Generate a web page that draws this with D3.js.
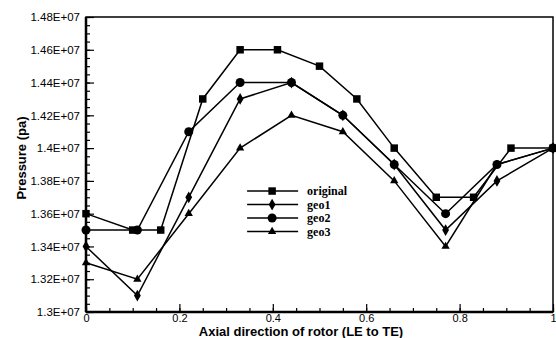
<!DOCTYPE html>
<html>
<head>
<meta charset="utf-8">
<script src="https://cdn.jsdelivr.net/npm/d3@7"></script>
<style>
  body { margin: 0; background: #fff; }
  svg { display: block; }
</style>
</head>
<body>
<svg id="drawing_region"></svg>
<script>
// data (pressure in units of 1E+07 pa)
const series_names = ['original', 'geo1', 'geo2', 'geo3'];
const original_x = [0, 0.1, 0.16, 0.25, 0.33, 0.41, 0.5, 0.58, 0.66, 0.75, 0.83, 0.91, 1.0];
const original_y = [1.36, 1.35, 1.35, 1.43, 1.46, 1.46, 1.45, 1.43, 1.40, 1.37, 1.37, 1.40, 1.40];
const geo_x = [0, 0.11, 0.22, 0.33, 0.44, 0.55, 0.66, 0.77, 0.88, 1.0];
const geo1_y = [1.34, 1.31, 1.37, 1.43, 1.44, 1.42, 1.39, 1.35, 1.38, 1.40];
const geo2_y = [1.35, 1.35, 1.41, 1.44, 1.44, 1.42, 1.39, 1.36, 1.39, 1.40];
const geo3_y = [1.33, 1.32, 1.36, 1.40, 1.42, 1.41, 1.38, 1.34, 1.39, 1.40];
const y_ticks = [1.30, 1.32, 1.34, 1.36, 1.38, 1.40, 1.42, 1.44, 1.46, 1.48];
const y_tick_labels = ['1.3E+07', '1.32E+07', '1.34E+07', '1.36E+07', '1.38E+07', '1.4E+07', '1.42E+07', '1.44E+07', '1.46E+07', '1.48E+07'];
const x_ticks = [0, 0.2, 0.4, 0.6, 0.8, 1];
const x_tick_labels = ['0', '0.2', '0.4', '0.6', '0.8', '1'];

const config = {
    width: 556,
    height: 338,
    margin: {top: 17, right: 3, bottom: 26, left: 86}
};

const svg = d3.select('#drawing_region')
    .attr('width', config.width)
    .attr('height', config.height);

const inner_width = config.width - config.margin.left - config.margin.right;
const inner_height = config.height - config.margin.top - config.margin.bottom;

const chart = svg.append('g')
    .attr('transform', `translate(${config.margin.left}, ${config.margin.top})`);

const xscale = d3.scaleLinear().domain([0, 1]).range([0, inner_width]);
const yscale = d3.scaleLinear().domain([1.30, 1.48]).range([inner_height, 0]);

// minor ticks (inside)
const x_minor = d3.range(0, 1.0001, 0.05);
const y_minor = d3.range(1.30, 1.48001, 0.005);

chart.append('g')
    .attr('transform', `translate(0, ${inner_height})`)
    .call(d3.axisBottom(xscale).tickValues(x_minor).tickSize(-4).tickFormat(''))
    .call(g => g.select('.domain').remove());

chart.append('g')
    .call(d3.axisLeft(yscale).tickValues(y_minor).tickSize(-4).tickFormat(''))
    .call(g => g.select('.domain').remove());

// major ticks
const xaxis_group = chart.append('g')
    .attr('transform', `translate(0, ${inner_height})`)
    .call(d3.axisBottom(xscale).tickValues(x_ticks).tickSize(-8).tickPadding(2)
        .tickFormat((d, i) => x_tick_labels[i]));
xaxis_group.select('.domain').remove();
xaxis_group.selectAll('text')
    .attr('font-family', 'Liberation Sans, Arial, sans-serif')
    .attr('font-size', '11px')
    .attr('fill', '#000');

const yaxis_group = chart.append('g')
    .call(d3.axisLeft(yscale).tickValues(y_ticks).tickSize(-8).tickPadding(6)
        .tickFormat((d, i) => y_tick_labels[i]));
yaxis_group.select('.domain').remove();
yaxis_group.selectAll('text')
    .attr('font-family', 'Liberation Sans, Arial, sans-serif')
    .attr('font-size', '11.5px')
    .attr('fill', '#000');

chart.selectAll('.tick line').attr('stroke', '#000').attr('stroke-width', 1.2);

// frame
chart.append('rect')
    .attr('x', 0).attr('y', 0)
    .attr('width', inner_width).attr('height', inner_height)
    .attr('fill', 'none').attr('stroke', '#000').attr('stroke-width', 1.5);
chart.append('line')
    .attr('x1', 0).attr('x2', 0).attr('y1', 0).attr('y2', inner_height)
    .attr('stroke', '#000').attr('stroke-width', 2.5);
chart.append('line')
    .attr('x1', 0).attr('x2', inner_width).attr('y1', inner_height).attr('y2', inner_height)
    .attr('stroke', '#000').attr('stroke-width', 2.5);

// series
const series = [
    {name: series_names[0], xs: original_x, ys: original_y, symbol: d3.symbolSquare, size: 56},
    {name: series_names[1], xs: geo_x, ys: geo1_y, symbol: d3.symbolDiamond, size: 40},
    {name: series_names[2], xs: geo_x, ys: geo2_y, symbol: d3.symbolCircle, size: 64},
    {name: series_names[3], xs: geo_x, ys: geo3_y, symbol: d3.symbolTriangle, size: 30}
];

const line = d3.line()
    .x(d => xscale(d[0]))
    .y(d => yscale(d[1]));

series.forEach(s => {
    const pts = s.xs.map((x, i) => [x, s.ys[i]]);
    chart.append('path')
        .attr('d', line(pts))
        .attr('stroke', '#000')
        .attr('stroke-width', 1.5)
        .attr('fill', 'none');
    chart.selectAll(null)
        .data(pts)
        .enter()
        .append('path')
        .attr('d', d3.symbol().type(s.symbol).size(s.size))
        .attr('transform', d => `translate(${xscale(d[0])}, ${yscale(d[1])})`)
        .attr('fill', '#000');
});

// legend
const legend = chart.append('g')
    .attr('transform', `translate(${xscale(0.345)}, ${yscale(1.3738)})`);
series.forEach((s, i) => {
    const g = legend.append('g').attr('transform', `translate(0, ${i * 13.5})`);
    g.append('line')
        .attr('x1', 0).attr('x2', 51)
        .attr('y1', 0).attr('y2', 0)
        .attr('stroke', '#000').attr('stroke-width', 1.5);
    g.append('path')
        .attr('d', d3.symbol().type(s.symbol).size(s.size))
        .attr('transform', 'translate(25, 0)')
        .attr('fill', '#000');
    g.append('text')
        .attr('x', 60).attr('y', 0)
        .attr('dy', '0.35em')
        .attr('font-family', 'Liberation Serif, serif')
        .attr('font-weight', 'bold')
        .attr('font-size', '12px')
        .text(s.name);
});

// axis titles
svg.append('text')
    .attr('x', 301).attr('y', 336)
    .attr('text-anchor', 'middle')
    .attr('font-family', 'Liberation Sans, Arial, sans-serif')
    .attr('font-weight', 'bold')
    .attr('font-size', '13px')
    .text('Axial direction of rotor (LE to TE)');

svg.append('text')
    .attr('transform', 'translate(26, 158) rotate(-90)')
    .attr('text-anchor', 'middle')
    .attr('font-family', 'Liberation Sans, Arial, sans-serif')
    .attr('font-weight', 'bold')
    .attr('font-size', '13px')
    .text('Pressure (pa)');
</script>
</body>
</html>
